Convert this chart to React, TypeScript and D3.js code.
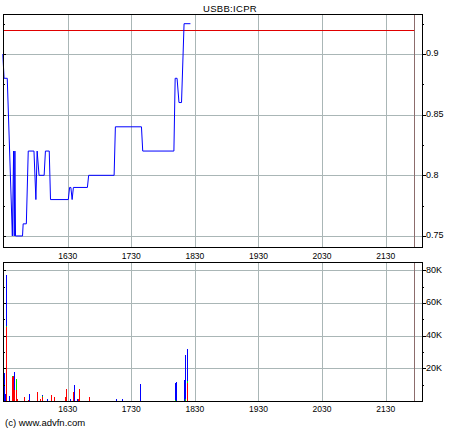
import React from "react";
import * as d3 from "d3";

const title = "USBB:ICPR";
const copyright = "(c) www.advfn.com";

// price series (time units, price)
const priceT = [1528, 1530, 1535, 1543, 1545, 1546, 1547, 1548, 1559, 1560, 1565, 1568, 1577, 1580, 1582, 1585, 1593, 1595, 1601, 1603, 1631, 1633, 1635, 1637, 1639, 1661, 1663, 1703, 1705, 1746, 1748, 1797, 1799, 1802, 1805, 1809, 1813, 1823];
const priceV = [0.9, 0.88, 0.88, 0.75, 0.82, 0.75, 0.82, 0.75, 0.75, 0.76, 0.76, 0.82, 0.82, 0.78, 0.82, 0.8, 0.8, 0.82, 0.82, 0.78, 0.78, 0.79, 0.79, 0.78, 0.79, 0.79, 0.8, 0.8, 0.84, 0.84, 0.82, 0.82, 0.88, 0.88, 0.86, 0.86, 0.925, 0.925];

const refPrice = 0.92;
const endMarkT = 2175;

// volume series, stacked red / green / blue
const volT = [1530, 1532, 1533, 1538, 1542, 1544, 1546, 1548, 1550, 1562, 1568, 1569, 1581, 1587, 1590, 1597, 1604, 1609, 1626, 1628, 1634, 1639, 1640, 1645, 1647, 1648, 1664, 1706, 1716, 1743, 1799, 1801, 1813, 1815, 1817];
const volRed = [0, 0, 45000, 0, 14500, 15000, 7000, 7000, 1200, 2400, 800, 0, 5300, 1000, 2600, 0, 3600, 2200, 2400, 7300, 0, 5300, 0, 0, 1000, 7300, 2400, 0, 0, 0, 0, 0, 0, 0, 11000];
const volGreen = [0, 0, 1000, 0, 800, 0, 0, 6500, 0, 0, 0, 0, 0, 0, 500, 0, 0, 0, 0, 0, 0, 0, 0, 0, 0, 0, 0, 0, 0, 0, 600, 0, 0, 1000, 1000];
const volBlue = [17000, 4400, 31000, 2800, 0, 0, 11000, 0, 0, 0, 0, 4500, 0, 0, 500, 1000, 0, 0, 0, 0, 1000, 0, 9600, 1000, 0, 0, 0, 1000, 1000, 10300, 10300, 11500, 12700, 27400, 20000];

const xTicks = [1630, 1730, 1830, 1930, 2030, 2130];
const priceTicks = [0.75, 0.8, 0.85, 0.9];
const priceMinor = [0.775, 0.825, 0.875, 0.925];
const volTicks = [20000, 40000, 60000, 80000];
const volTickLabels = ["20K", "40K", "60K", "80K"];
const volMinor = [10000, 30000, 50000, 70000];

const W = 460;
const H = 430;
const L = 3;
const R = 422;
const topT = 14;
const topB = 247;
const botT = 262;
const botB = 401;

const FONT = "Liberation Sans, Arial, sans-serif";
const GRID = "#aab6b6";

export default function App() {
  const x = d3.scaleLinear().domain([1528.3, 2187.1]).range([L, R]);
  const yP = d3.scaleLinear().domain([0.7409, 0.933]).range([topB, topT]);
  const yV = d3.scaleLinear().domain([0, 85000]).range([botB, botT]);

  const pts = priceT.map((t, i) => [t, priceV[i]] as [number, number]);
  const line = d3
    .line<[number, number]>()
    .x((d) => x(d[0]))
    .y((d) => yP(d[1]));

  const crisp = (v: number) => Math.round(v) + 0.5;

  const bars: React.ReactNode[] = [];
  volT.forEach((t, i) => {
    const bx = Math.round(x(t));
    const segs: [number, string][] = [
      [volRed[i], "#ff0000"],
      [volGreen[i], "#00e000"],
      [volBlue[i], "#0000ff"],
    ];
    let base = 0;
    segs.forEach(([v, c], j) => {
      if (v <= 0) return;
      const y0 = yV(base);
      const y1 = yV(base + v);
      bars.push(
        <rect key={`b${i}-${j}`} x={bx} y={y1} width={1} height={Math.max(1, y0 - y1)} fill={c} shapeRendering="crispEdges" />
      );
      base += v;
    });
  });

  return (
    <svg width={W} height={H} style={{ position: "absolute", left: 0, top: 0, background: "#fff" }}>
      <rect x={0} y={0} width={W} height={H} fill="#fff" />
      <text x={230} y={12} textAnchor="middle" fontFamily={FONT} fontSize={9.5} fill="#000" letterSpacing={0.3}>
        {title}
      </text>

      {/* top panel grid */}
      {xTicks.map((t) => (
        <line key={`gx${t}`} x1={crisp(x(t))} x2={crisp(x(t))} y1={topT} y2={topB} stroke={GRID} />
      ))}
      {priceTicks.map((v) => (
        <line key={`gy${v}`} x1={L} x2={R} y1={crisp(yP(v))} y2={crisp(yP(v))} stroke={GRID} />
      ))}
      <line x1={crisp(x(endMarkT))} x2={crisp(x(endMarkT))} y1={topT} y2={topB} stroke="#8c6c6c" />
      <line x1={L} x2={x(endMarkT)} y1={crisp(yP(refPrice))} y2={crisp(yP(refPrice))} stroke="#e00000" />
      <path d={line(pts) ?? ""} fill="none" stroke="#0000ff" strokeWidth={1} />
      <rect x={L + 0.5} y={topT + 0.5} width={R - L} height={topB - topT} fill="none" stroke="#000" />
      {priceTicks.map((v) => (
        <g key={`pt${v}`}>
          <line x1={R} x2={R + 4} y1={crisp(yP(v))} y2={crisp(yP(v))} stroke="#000" />
          <line x1={L} x2={L + 3} y1={crisp(yP(v))} y2={crisp(yP(v))} stroke="#000" />
          <text x={R + 4} y={yP(v)} dominantBaseline="middle" fontFamily={FONT} fontSize={9} fill="#000">
            {String(v)}
          </text>
        </g>
      ))}
      {priceMinor.map((v) => (
        <g key={`pm${v}`}>
          <line x1={R} x2={R + 2} y1={crisp(yP(v))} y2={crisp(yP(v))} stroke="#000" />
          <line x1={L} x2={L + 2} y1={crisp(yP(v))} y2={crisp(yP(v))} stroke="#000" />
        </g>
      ))}
      {xTicks.map((t) => (
        <text key={`xl1${t}`} x={x(t)} y={257} textAnchor="middle" dominantBaseline="middle" fontFamily={FONT} fontSize={8.5} fill="#000">
          {t}
        </text>
      ))}

      {/* bottom panel */}
      {xTicks.map((t) => (
        <line key={`vgx${t}`} x1={crisp(x(t))} x2={crisp(x(t))} y1={botT} y2={botB} stroke={GRID} />
      ))}
      {volTicks.map((v) => (
        <line key={`vgy${v}`} x1={L} x2={R} y1={crisp(yV(v))} y2={crisp(yV(v))} stroke={GRID} />
      ))}
      <line x1={crisp(x(endMarkT))} x2={crisp(x(endMarkT))} y1={botT} y2={botB} stroke="#8c6c6c" />
      {bars}
      <rect x={L + 0.5} y={botT + 0.5} width={R - L} height={botB - botT} fill="none" stroke="#000" />
      {volTicks.map((v, i) => (
        <g key={`vt${v}`}>
          <line x1={R} x2={R + 4} y1={crisp(yV(v))} y2={crisp(yV(v))} stroke="#000" />
          <line x1={L} x2={L + 3} y1={crisp(yV(v))} y2={crisp(yV(v))} stroke="#000" />
          <text x={R + 4} y={yV(v)} dominantBaseline="middle" fontFamily={FONT} fontSize={9} fill="#000">
            {volTickLabels[i]}
          </text>
        </g>
      ))}
      {volMinor.map((v) => (
        <g key={`vm${v}`}>
          <line x1={R} x2={R + 2} y1={crisp(yV(v))} y2={crisp(yV(v))} stroke="#000" />
          <line x1={L} x2={L + 2} y1={crisp(yV(v))} y2={crisp(yV(v))} stroke="#000" />
        </g>
      ))}
      {xTicks.map((t) => (
        <text key={`xl2${t}`} x={x(t)} y={410} textAnchor="middle" dominantBaseline="middle" fontFamily={FONT} fontSize={8.5} fill="#000">
          {t}
        </text>
      ))}
      <text x={5} y={423} dominantBaseline="middle" fontFamily={FONT} fontSize={9.5} fill="#000">
        {copyright}
      </text>
    </svg>
  );
}
